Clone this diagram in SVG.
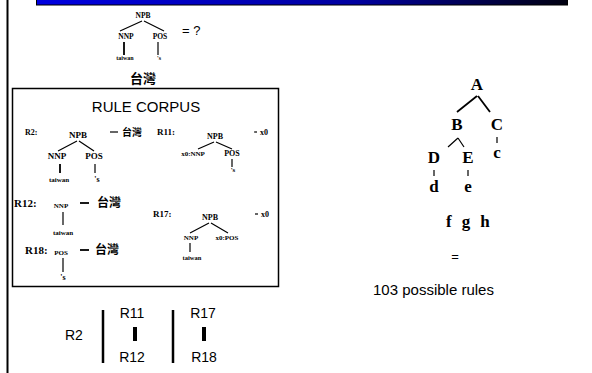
<svg xmlns="http://www.w3.org/2000/svg" width="592" height="373" viewBox="0 0 592 373">
<defs>
<linearGradient id="bar" x1="0" y1="0" x2="1" y2="0">
<stop offset="0" stop-color="#0000e0"/>
<stop offset="0.6" stop-color="#0000a0"/>
<stop offset="1" stop-color="#000010"/>
</linearGradient>
</defs>
<style>
.s{font-family:"Liberation Serif","Times New Roman",serif;font-weight:bold;fill:#000}
.a{font-family:"Liberation Sans",Arial,sans-serif;fill:#000}
.c{font-family:"Liberation Sans","Noto Sans CJK TC",sans-serif;font-weight:bold;fill:#000}
.m{text-anchor:middle}
.l{stroke:#000;stroke-width:1.2;fill:none}
.t{stroke:#000;stroke-width:1.8;fill:none}
.k{stroke:#000;stroke-width:2.5;fill:none}
</style>
<rect width="592" height="373" fill="#fff"/>
<line x1="7.5" y1="0" x2="7.5" y2="373" stroke="#000" stroke-width="2"/>
<rect x="36.5" y="-1" width="531" height="6" fill="url(#bar)" stroke="#000" stroke-width="1"/>

<g id="top-tree">
<text class="s m" x="143" y="18" font-size="7.5">NPB</text>
<text class="s m" x="126" y="39" font-size="7.5">NNP</text>
<text class="s m" x="160" y="39" font-size="7.5">POS</text>
<text class="s m" x="125" y="60" font-size="6">taiwan</text>
<text class="s m" x="159" y="60" font-size="6">'s</text>
<text class="a" x="182" y="35" font-size="13">= ?</text>
<text class="c m" x="143" y="83" font-size="13">台灣</text>
</g>

<g id="rule-corpus">
<rect x="12.5" y="88.5" width="266" height="198" fill="none" stroke="#000" stroke-width="1.5"/>
<text class="a m" x="146" y="112" font-size="15">RULE CORPUS</text>
</g>

<g id="R2">
<text class="s" x="25" y="135" font-size="8">R2:</text>
<text class="s m" x="78" y="138" font-size="9">NPB</text>
<text class="c" x="122" y="136" font-size="10">台灣</text>
<text class="s m" x="57" y="159" font-size="9">NNP</text>
<text class="s m" x="94" y="159" font-size="9">POS</text>
<text class="s m" x="59" y="182" font-size="7">taiwan</text>
<text class="s m" x="97" y="182" font-size="8">'s</text>
</g>

<g id="R11">
<text class="s" x="157" y="135" font-size="9">R11:</text>
<text class="s m" x="215" y="139" font-size="8">NPB</text>
<text class="s" x="260" y="135" font-size="8">x0</text>
<text class="s m" x="193" y="156" font-size="7">x0:NNP</text>
<text class="s m" x="232" y="156" font-size="8">POS</text>
<text class="s m" x="233" y="172" font-size="7">'s</text>
</g>

<g id="R12">
<text class="s" x="14" y="207" font-size="11">R12:</text>
<text class="s m" x="61" y="208" font-size="7">NNP</text>
<text class="c" x="97" y="207" font-size="12">台灣</text>
<text class="s m" x="63" y="235" font-size="7">taiwan</text>
</g>

<g id="R18">
<text class="s" x="25" y="254" font-size="11">R18:</text>
<text class="s m" x="61" y="255" font-size="7">POS</text>
<text class="c" x="95" y="254" font-size="12">台灣</text>
<text class="s m" x="63" y="280" font-size="8">'s</text>
</g>

<g id="R17">
<text class="s" x="153" y="217" font-size="9">R17:</text>
<text class="s m" x="210" y="220" font-size="8">NPB</text>
<text class="s" x="261" y="217" font-size="8">x0</text>
<text class="s m" x="191" y="240" font-size="7">NNP</text>
<text class="s m" x="227" y="240" font-size="7">x0:POS</text>
<text class="s m" x="192" y="260" font-size="6.5">taiwan</text>
</g>

<g id="bottom">
<text class="a" x="65" y="340" font-size="14">R2</text>
<text class="a m" x="132" y="318" font-size="14">R11</text>
<text class="a m" x="132" y="362" font-size="14">R12</text>
<text class="a m" x="203" y="318" font-size="14">R17</text>
<text class="a m" x="204" y="362" font-size="14">R18</text>
</g>

<g id="right-tree">
<text class="s m" x="477" y="90" font-size="17">A</text>
<text class="s m" x="457" y="130" font-size="17">B</text>
<text class="s m" x="497" y="130" font-size="17">C</text>
<text class="s m" x="497" y="158" font-size="17">c</text>
<text class="s m" x="434" y="163" font-size="17">D</text>
<text class="s m" x="468" y="163" font-size="17">E</text>
<text class="s m" x="434" y="192" font-size="17">d</text>
<text class="s m" x="468" y="192" font-size="17">e</text>
<text class="s" x="446" y="227" font-size="17" xml:space="preserve" letter-spacing="0.5">f  g  h</text>
<text class="a m" x="455" y="261" font-size="13">=</text>
<text class="a" x="373" y="295" font-size="15">103 possible rules</text>
</g>

<g id="connectors">
<path class="l" d="M142 21 L120 31 M144 21 L164 31"/>
<path class="t" d="M124 42 V55"/>
<path class="l" d="M158 42 V55"/>
<path class="l" d="M110 132 H118"/>
<path class="l" d="M254 132 H257"/>
<path class="l" d="M77 141 L58 151 M79 141 L94 151"/>
<path class="t" d="M60 164 V173"/>
<path class="l" d="M95 164 V173"/>
<path class="l" d="M214 142 L198 149 M216 142 L232 149"/>
<path class="l" d="M232 159 V167"/>
<path class="t" d="M80 203 H89"/>
<path class="l" d="M63 212 V225"/>
<path class="t" d="M80 250 H89"/>
<path class="l" d="M63 258 V272"/>
<path class="l" d="M255 214 H258"/>
<path class="l" d="M209 223 L190 233 M211 223 L228 233"/>
<path class="l" d="M190 243 V252"/>
<path class="k" d="M103 310 V363 M173 310 V363"/>
<path d="M133 327 H137 V341 H133 Z M202 327 H206 V341 H202 Z" fill="#000"/>
<path class="t" d="M477 96 L457 112 M478 96 L490 112"/>
<path class="l" d="M458 138 L448 147 M458 138 L464 147"/>
<path class="l" d="M497 137 V143 M434 170 V176 M468 170 V176"/>
</g>
</svg>
